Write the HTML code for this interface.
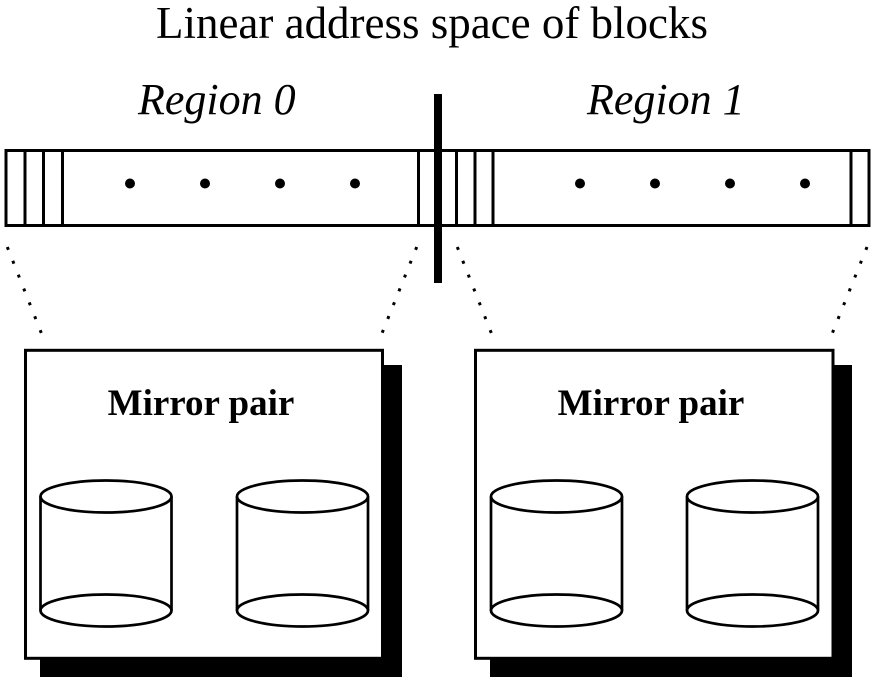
<!DOCTYPE html>
<html>
<head>
<meta charset="utf-8">
<style>
  html, body { margin: 0; padding: 0; background: #fff; }
  svg { display: block; }
  text { font-family: "Liberation Serif", "Times New Roman", serif; fill: #000; }
</style>
</head>
<body>
<svg width="876" height="680" viewBox="0 0 876 680" xmlns="http://www.w3.org/2000/svg">
  <rect width="876" height="680" fill="#fff"/>

  <!-- Title -->
  <text x="156" y="38" font-size="45" textLength="552" lengthAdjust="spacingAndGlyphs">Linear address space of blocks</text>

  <!-- Region labels -->
  <text x="138" y="114" font-size="44" font-style="italic">Region 0</text>
  <text x="587" y="114" font-size="44" font-style="italic">Region 1</text>

  <!-- Block bar -->
  <rect x="6" y="150.5" width="863" height="75" fill="#fff" stroke="#000" stroke-width="3"/>
  <g stroke="#000" stroke-width="3">
    <line x1="25" y1="150" x2="25" y2="226"/>
    <line x1="43.5" y1="150" x2="43.5" y2="226"/>
    <line x1="62.5" y1="150" x2="62.5" y2="226"/>
    <line x1="418.5" y1="150" x2="418.5" y2="226"/>
    <line x1="456.5" y1="150" x2="456.5" y2="226"/>
    <line x1="475" y1="150" x2="475" y2="226"/>
    <line x1="493" y1="150" x2="493" y2="226"/>
    <line x1="851" y1="150" x2="851" y2="226"/>
  </g>

  <!-- Dots -->
  <g fill="#000">
    <circle cx="130" cy="183.5" r="5"/>
    <circle cx="205" cy="183.5" r="5"/>
    <circle cx="280" cy="183.5" r="5"/>
    <circle cx="355" cy="183.5" r="5"/>
    <circle cx="580" cy="183.5" r="5"/>
    <circle cx="655" cy="183.5" r="5"/>
    <circle cx="730" cy="183.5" r="5"/>
    <circle cx="805" cy="183.5" r="5"/>
  </g>

  <!-- Thick divider -->
  <rect x="434" y="94" width="8" height="189" fill="#000"/>

  <!-- Dotted lines -->
  <g stroke="#000" stroke-width="3" stroke-dasharray="3 11.9" fill="none">
    <line x1="7.3" y1="247" x2="41.7" y2="334"/>
    <line x1="416.7" y1="247" x2="381.7" y2="334"/>
    <line x1="457.3" y1="247" x2="491.7" y2="334"/>
    <line x1="867" y1="247" x2="832" y2="334"/>
  </g>

  <!-- Left box -->
  <rect x="40" y="365" width="362" height="312" fill="#000"/>
  <rect x="25.5" y="350.3" width="357" height="308" fill="#fff" stroke="#000" stroke-width="3"/>
  <text x="201" y="415" font-size="37" font-weight="bold" text-anchor="middle">Mirror pair</text>

  <!-- Right box -->
  <rect x="490" y="365" width="362" height="312" fill="#000"/>
  <rect x="475.5" y="350.3" width="357.5" height="308" fill="#fff" stroke="#000" stroke-width="3"/>
  <text x="651" y="415" font-size="37" font-weight="bold" text-anchor="middle">Mirror pair</text>

  <!-- Cylinders -->
  <g stroke="#000" stroke-width="2.7" fill="none">
    <!-- cyl 1 -->
    <ellipse cx="106" cy="496.5" rx="65.5" ry="16"/>
    <ellipse cx="106" cy="610.5" rx="65.5" ry="16"/>
    <line x1="40.5" y1="496.5" x2="40.5" y2="610.5"/>
    <line x1="171.5" y1="496.5" x2="171.5" y2="610.5"/>
    <!-- cyl 2 -->
    <ellipse cx="302.5" cy="496.5" rx="65.5" ry="16"/>
    <ellipse cx="302.5" cy="610.5" rx="65.5" ry="16"/>
    <line x1="237" y1="496.5" x2="237" y2="610.5"/>
    <line x1="368" y1="496.5" x2="368" y2="610.5"/>
    <!-- cyl 3 -->
    <ellipse cx="556.5" cy="496.5" rx="65.5" ry="16"/>
    <ellipse cx="556.5" cy="610.5" rx="65.5" ry="16"/>
    <line x1="491" y1="496.5" x2="491" y2="610.5"/>
    <line x1="622" y1="496.5" x2="622" y2="610.5"/>
    <!-- cyl 4 -->
    <ellipse cx="752.5" cy="496.5" rx="65.5" ry="16"/>
    <ellipse cx="752.5" cy="610.5" rx="65.5" ry="16"/>
    <line x1="687" y1="496.5" x2="687" y2="610.5"/>
    <line x1="818" y1="496.5" x2="818" y2="610.5"/>
  </g>
</svg>
</body>
</html>
